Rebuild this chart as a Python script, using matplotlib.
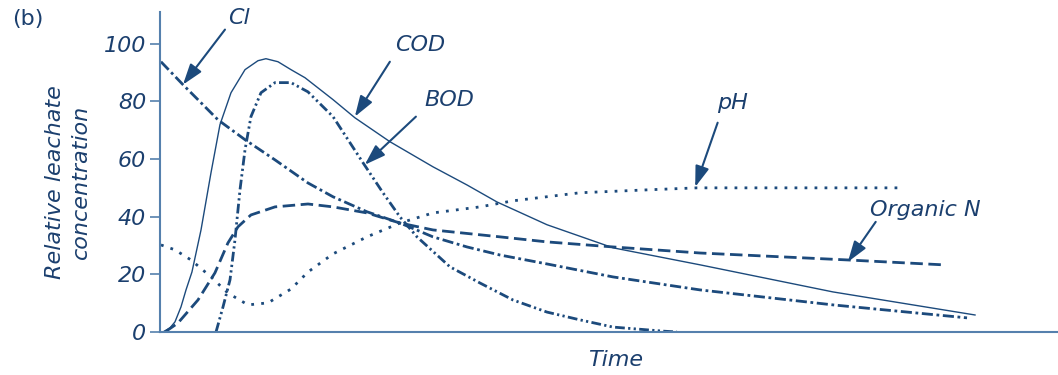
import matplotlib.pyplot as plt

# Leachate concentration curves (relative units) against time (arbitrary units)
cod_t = [0.33, 1.11, 1.67, 2.34, 2.90, 3.56, 4.57, 5.68, 6.68, 7.91, 9.47, 10.91, 11.80,
         13.14, 14.59, 16.15, 19.27, 21.71, 25.61, 30.40, 34.19, 37.53, 43.10, 50.45,
         60.13, 74.94, 90.76]
cod_c = [0, 1.4, 3.5, 8.7, 14.6, 20.8, 35.4, 55.2, 71.9, 83.0, 91.0, 94.1, 94.8,
         93.75, 91.0, 88.2, 80.6, 74.3, 66.0, 57.3, 51.0, 45.1, 37.2, 29.2,
         23.3, 13.9, 5.9]

bod_t = [6.24, 7.02, 7.80, 8.35, 8.91, 9.47, 10.13, 11.25, 12.81, 14.59, 16.48, 19.27,
         22.61, 24.83, 26.73, 28.62, 32.29, 35.63, 39.31, 43.10, 46.77, 50.45, 56.01, 57.57]
bod_c = [0, 8.7, 18.1, 31.9, 49.3, 63.2, 74.7, 83.0, 86.5, 86.5, 83.3, 74.7,
         58.7, 48.3, 39.9, 33.0, 22.6, 17.0, 11.1, 6.9, 4.2, 1.7, 0.3, 0]

cl_t = [0.11, 2.56, 4.45, 6.46, 9.47, 12.81, 16.48, 19.27, 23.05, 26.73, 30.40, 34.19,
        37.86, 43.10, 50.45, 60.13, 74.94, 89.87]
cl_c = [93.75, 85.8, 79.9, 73.6, 66.7, 59.7, 51.7, 46.9, 41.7, 37.8, 33.0, 29.5,
        26.7, 23.6, 19.1, 14.6, 9.4, 4.9]

orgn_t = [0.56, 2.0, 4.23, 6.12, 7.57, 8.69, 10.13, 12.81, 16.48, 19.27, 23.05, 26.73,
          30.40, 37.86, 43.10, 50.45, 60.13, 76.50, 87.19]
orgn_c = [0, 3.1, 11.1, 20.5, 30.9, 36.5, 40.6, 43.4, 44.4, 43.4, 41.3, 37.8,
          35.4, 33.0, 31.25, 29.5, 27.4, 25.0, 23.3]

ph_t = [0.11, 1.67, 3.45, 5.68, 7.57, 9.80, 12.03, 14.59, 16.48, 19.27, 23.05, 26.73,
        30.40, 35.63, 39.31, 46.77, 54.23, 59.80, 71.27, 82.74]
ph_c = [30.2, 28.5, 25.0, 19.1, 13.5, 9.4, 10.1, 14.9, 20.8, 27.1, 33.0, 37.8,
        41.3, 43.4, 45.5, 48.3, 49.3, 50.0, 50.0, 50.0]

yticks = [0, 20, 40, 60, 80, 100]

line_col = '#1c4a7c'
text_col = '#1b3f6e'
axis_col = '#5580ad'
font = 'DejaVu Sans'
fs = 16

fig = plt.figure(figsize=(10.58, 3.75), dpi=100)
ax = fig.add_axes([0.1512, 0.1147, 0.8488, 0.8533])

ax.plot(cod_t, cod_c, color=line_col, lw=1.0)
ax.plot(bod_t, bod_c, color=line_col, lw=2.0,
        linestyle=(0, (3.5, 1.2, 0.8, 1.2, 0.8, 1.2)))
ax.plot(cl_t, cl_c, color=line_col, lw=2.0, linestyle=(0, (4, 1.3, 1, 1.3)))
ax.plot(orgn_t, orgn_c, color=line_col, lw=2.0, linestyle=(0, (4.5, 2)))
ax.plot(ph_t, ph_c, color=line_col, lw=2.0, linestyle=(0, (1, 2.6)))

ax.set_xlim(0, 100)
ax.set_ylim(0, 111)
for s in ['top', 'right']:
    ax.spines[s].set_visible(False)
for s in ['left', 'bottom']:
    ax.spines[s].set_color(axis_col)
    ax.spines[s].set_linewidth(1.5)
ax.set_xticks([])
ax.set_yticks(yticks)
ax.set_yticklabels([str(v) for v in yticks], fontsize=fs, style='italic',
                   family=font, color=text_col)
ax.tick_params(axis='y', direction='out', length=7, width=1.2, color=axis_col, pad=3)

fig.text(0.064, 0.515, 'Relative leachate\nconcentration', rotation=90, fontsize=fs,
         style='italic', family=font, color=text_col, ha='center', va='center',
         multialignment='center', linespacing=1.4)
fig.text(0.582, 0.04, 'Time', fontsize=fs, style='italic', family=font,
         color=text_col, ha='center', va='center')
fig.text(0.011, 0.95, '(b)', fontsize=fs, family=font, color=text_col,
         ha='left', va='center')

# curve labels with pointer arrows
labels = [
    ('Cl', (8.8, 109), (7.24, 104.9), (2.56, 85.8)),
    ('COD', (29.0, 99.7), (25.6, 93.75), (21.7, 74.7)),
    ('BOD', (32.2, 80.6), (28.5, 74.7), (22.8, 58.0)),
    ('pH', (63.8, 79.5), (62.1, 72.6), (59.6, 50.3)),
    ('Organic N', (85.2, 42.4), (79.7, 38.2), (76.6, 24.3)),
]
for name, pos, tail, tip in labels:
    ax.text(pos[0], pos[1], name, fontsize=fs, style='italic', family=font,
            color=text_col, ha='center', va='center', clip_on=False)
    ax.annotate('', xy=tip, xytext=tail,
                arrowprops=dict(arrowstyle='-|>,head_length=0.9,head_width=0.3',
                                color=line_col, lw=1.5, mutation_scale=14,
                                shrinkA=0, shrinkB=0),
                annotation_clip=False)

fig.savefig('out.png', dpi=100)
